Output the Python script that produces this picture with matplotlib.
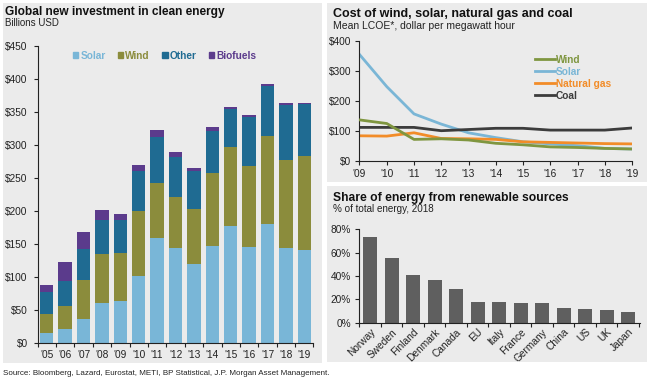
import matplotlib
matplotlib.use("Agg")
import matplotlib.pyplot as plt
from matplotlib.patches import Rectangle, Patch
import numpy as np

plt.rcParams['font.family'] = ['Liberation Sans', 'DejaVu Sans']

# ---------------- data ----------------
years_inv = ["'05", "'06", "'07", "'08", "'09", "'10", "'11", "'12", "'13", "'14", "'15", "'16", "'17", "'18", "'19"]
solar_inv = [16, 22, 37, 61, 64, 102, 160, 144, 120, 148, 178, 146, 181, 144, 141]
wind_inv = [28, 35, 59, 74, 73, 98, 82, 78, 83, 110, 119, 122, 133, 133, 143]
other_inv = [34, 38, 46, 51, 50, 61, 70, 60, 58, 64, 58, 75, 76, 84, 78]
biofuel_inv = [10, 28, 27, 16, 9, 9, 11, 7, 5, 6, 2, 2, 2, 2, 1]

years_cost = ["'09", "'10", "'11", "'12", "'13", "'14", "'15", "'16", "'17", "'18", "'19"]
wind_cost = [136, 124, 71, 73, 69, 58, 53, 46, 44, 41, 39]
solar_cost = [354, 247, 156, 122, 93, 77, 63, 56, 50, 41, 39]
gas_cost = [83, 82, 93, 74, 73, 71, 63, 61, 59, 57, 56]
coal_cost = [111, 111, 111, 100, 104, 108, 108, 102, 102, 102, 109]

countries = ["Norway", "Sweden", "Finland", "Denmark", "Canada", "EU", "Italy", "France", "Germany", "China", "US", "UK", "Japan"]
share = [73, 55, 41, 37, 29, 18, 18, 17, 17, 13, 11.5, 11, 9]

# ---------------- styling ----------------
W, H = 650, 379
fig = plt.figure(figsize=(6.5, 3.79), dpi=100)
fig.patch.set_facecolor('white')
BG = '#ebebeb'

def fx(px):
    return px / W

def fy(py):
    return 1 - py / H

def panel(x0, y0, x1, y1):
    fig.patches.append(Rectangle((fx(x0), fy(y1)), fx(x1 - x0), (y1 - y0) / H,
                                 transform=fig.transFigure, facecolor=BG, edgecolor='none', zorder=-10))

panel(3, 3, 322, 363)
panel(327, 3, 647, 182)
panel(327, 186, 647, 362)

def axes_px(x0, y0, x1, y1):
    ax = fig.add_axes([fx(x0), fy(y1), fx(x1 - x0), (y1 - y0) / H])
    ax.set_facecolor('none')
    for s in ['top', 'right']:
        ax.spines[s].set_visible(False)
    for s in ['left', 'bottom']:
        ax.spines[s].set_color('#222222')
        ax.spines[s].set_linewidth(0.8)
    ax.tick_params(labelsize=7.3, colors='#222222', length=3, width=0.8)
    return ax

c_solar = '#79b6d7'
c_wind = '#8b8c3c'
c_other = '#1f6b92'
c_bio = '#5b3b8c'

# ---------------- left: investment ----------------
ax1 = axes_px(37.5, 46, 313.5, 343.3)
x = np.arange(len(years_inv))
bw = 0.72
b1 = np.array(solar_inv)
b2 = b1 + np.array(wind_inv)
b3 = b2 + np.array(other_inv)
ax1.bar(x, solar_inv, bw, color=c_solar)
ax1.bar(x, wind_inv, bw, bottom=b1, color=c_wind)
ax1.bar(x, other_inv, bw, bottom=b2, color=c_other)
ax1.bar(x, biofuel_inv, bw, bottom=b3, color=c_bio)
ax1.set_xlim(-0.5, 14.5)
ax1.set_ylim(0, 450)
ax1.set_yticks(np.arange(0, 451, 50))
ax1.set_yticklabels([f'${v}' for v in range(0, 451, 50)])
ax1.set_xticks(x)
ax1.set_xticklabels(years_inv)
ax1.tick_params(axis='x', length=0, pad=5)
ax1.set_xticks(np.arange(-0.5, 15, 1), minor=True)
ax1.tick_params(axis='x', which='minor', length=3, width=0.8, color='#222222')
ax1.tick_params(axis='y', length=3, pad=4)

handles = [Patch(color=c) for c in [c_solar, c_wind, c_other, c_bio]]
ax1.legend(handles, ['Solar', 'Wind', 'Other', 'Biofuels'], ncol=4, frameon=False,
           loc='center left', bbox_to_anchor=(0.095, 0.967), handlelength=0.55, handleheight=0.55,
           handletextpad=0.2, columnspacing=1.2, prop={'size': 7.3, 'weight': 'bold'},
           labelcolor=[c_solar, c_wind, c_other, c_bio])

fig.text(fx(5), fy(15), 'Global new investment in clean energy', fontsize=8.6, fontweight='bold', color='#111111')
fig.text(fx(5), fy(26.5), 'Billions USD', fontsize=7.0, color='#222222')

# ---------------- right top: cost lines ----------------
ax2 = axes_px(359.5, 40.7, 632, 160.7)
xc = np.arange(len(years_cost))
lc_wind = '#7f9640'
lc_solar = '#7ab6d6'
lc_gas = '#f28c28'
lc_coal = '#3c3c3c'
ax2.plot(xc, wind_cost, color=lc_wind, lw=2, label='Wind', zorder=3)
ax2.plot(xc, solar_cost, color=lc_solar, lw=2, label='Solar', zorder=2)
ax2.plot(xc, gas_cost, color=lc_gas, lw=2, label='Natural gas', zorder=2)
ax2.plot(xc, coal_cost, color=lc_coal, lw=2, label='Coal', zorder=2)
ax2.set_xlim(0, 10)
ax2.set_ylim(0, 400)
ax2.set_yticks(np.arange(0, 401, 100))
ax2.set_yticklabels([f'${v}' for v in range(0, 401, 100)])
ax2.set_xticks(xc)
ax2.set_xticklabels(years_cost)
ax2.tick_params(axis='x', length=3, pad=3)
ax2.tick_params(axis='y', length=3, pad=3)
ax2.legend(loc='upper left', bbox_to_anchor=(0.61, 0.96), frameon=False, handlelength=2.0,
           handletextpad=0.05, labelspacing=0.2, prop={'size': 7.3, 'weight': 'bold'},
           labelcolor=[lc_wind, lc_solar, lc_gas, lc_coal])

fig.text(fx(333), fy(17.5), 'Cost of wind, solar, natural gas and coal', fontsize=9.0, fontweight='bold', color='#111111')
fig.text(fx(333), fy(29), 'Mean LCOE*, dollar per megawatt hour', fontsize=7.5, color='#222222')

# ---------------- right bottom: share ----------------
ax3 = axes_px(359.5, 229.3, 640, 322.7)
xs = np.arange(len(countries))
ax3.bar(xs, share, 0.65, color='#5f5f5f')
ax3.set_xlim(-0.5, 12.55)
ax3.set_ylim(0, 80)
ax3.set_yticks(np.arange(0, 81, 20))
ax3.set_yticklabels([f'{v}%' for v in range(0, 81, 20)])
ax3.set_xticks(xs)
ax3.set_xticklabels(countries, rotation=45, ha='right', rotation_mode='anchor')
ax3.tick_params(axis='x', length=0, pad=3)
ax3.set_xticks(np.arange(-0.5, 13, 1), minor=True)
ax3.tick_params(axis='x', which='minor', length=3, width=0.8, color='#222222')
ax3.tick_params(axis='y', length=3, pad=3)

fig.text(fx(333), fy(200.7), 'Share of energy from renewable sources', fontsize=8.7, fontweight='bold', color='#111111')
fig.text(fx(333), fy(212), '% of total energy, 2018', fontsize=7.1, color='#222222')

fig.text(fx(3), fy(375), 'Source: Bloomberg, Lazard, Eurostat, METI, BP Statistical, J.P. Morgan Asset Management.',
         fontsize=5.8, color='#222222')

fig.savefig('out.png', dpi=100)
